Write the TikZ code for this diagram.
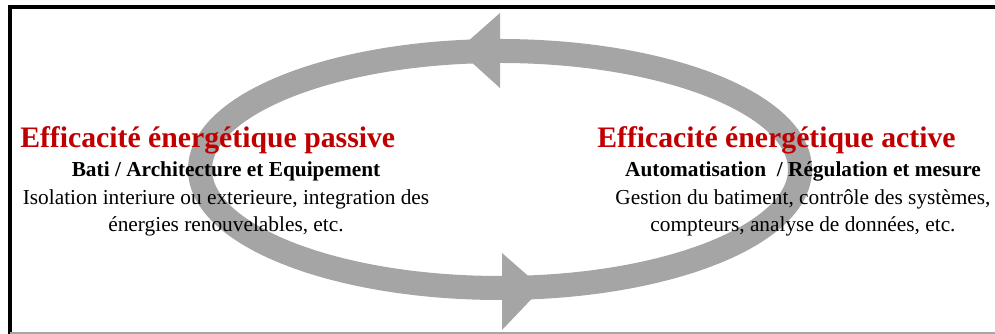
\documentclass[tikz,border=0pt]{standalone}
\usepackage{fontspec}
\setmainfont{Liberation Serif}
\usepackage{tikz}
\definecolor{ringgray}{HTML}{A5A5A5}
\definecolor{titlered}{HTML}{C00000}
\tikzset{ring/.style = {draw = ringgray, line width = 18pt}}
\tikzset{head/.style = {fill = ringgray}}
\tikzset{frame/.style = {line width = 3pt, line cap = rect}}
\tikzset{heading/.style = {anchor = base west, inner sep = 0, text = titlered,
                           font = \fontsize{22.3}{26}\selectfont\bfseries}}
\tikzset{subhead/.style = {anchor = base, inner sep = 0,
                           font = \fontsize{16}{20}\selectfont\bfseries}}
\tikzset{body/.style = {anchor = base, inner sep = 0,
                        font = \fontsize{16}{20}\selectfont}}
\begin{document}
\begin{tikzpicture}[x = 0.75pt, y = 0.75pt]
      \useasboundingbox (0, 0) rectangle (995, 334);

      \coordinate (fl) at (10, 327);
      \coordinate (fr) at (995, 327);
      \coordinate (bl) at (10, 0);
      \coordinate (br) at (995, 1);
      \draw [frame] (fr) -- (fl) -- (bl);
      \draw [gray!70, line width = 1.1pt] (10, 1) -- (br);

      \draw [ring] (500, 164.5) ellipse [x radius = 300, y radius = 118.5];
      \fill [head] (458, 284) -- (500, 321) -- (500, 246) -- cycle;
      \fill [head] (542, 46) -- (502, 81) -- (502, 4) -- cycle;

      \node (p1) at (20, 186) [heading] {Efficacité énergétique passive};
      \node (p2) at (226, 157.3) [subhead] {Bati / Architecture et Equipement};
      \node (p3) at (226, 129) [body] {Isolation interiure ou exterieure, integration des};
      \node (p4) at (226, 102) [body] {énergies renouvelables, etc.};

      \node (a1) at (597, 186) [heading] {Efficacité énergétique active};
      \node (a2) at (803, 157.3) [subhead] {Automatisation~~/ Régulation et mesure};
      \node (a3) at (803, 129) [body] {Gestion du batiment, contrôle des systèmes,};
      \node (a4) at (803, 102) [body] {compteurs, analyse de données, etc.};
    \end{tikzpicture}
\end{document}
